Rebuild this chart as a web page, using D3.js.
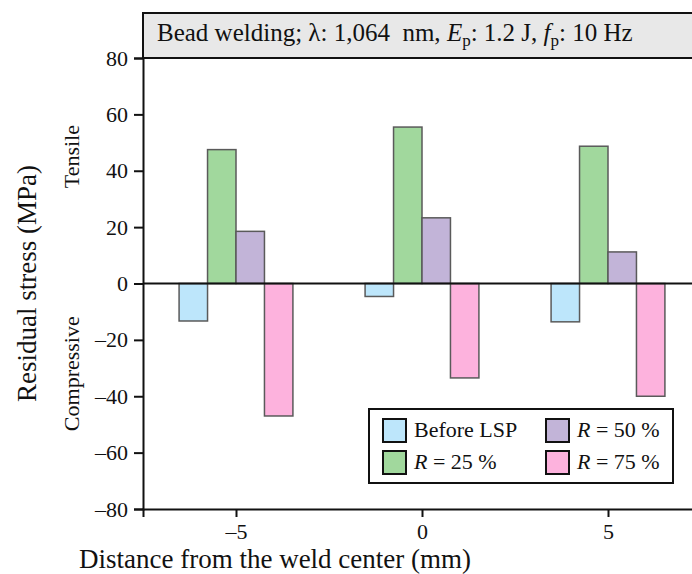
<!DOCTYPE html>
<html>
<head>
<meta charset="utf-8">
<script src="https://cdn.jsdelivr.net/npm/d3@7"></script>
<style>
  body { margin: 0; background: #fff; }
  svg text { font-family: 'Liberation Serif', 'DejaVu Serif', serif !important; fill: #111; }
</style>
</head>
<body>
<script>
const positions = [-5, 0, 5];
const series = ["Before LSP", "R = 25 %", "R = 50 %", "R = 75 %"];
const beforeLSP = [-13.3, -4.6, -13.6];
const r25 = [47.5, 55.5, 48.7];
const r50 = [18.5, 23.3, 11.2];
const r75 = [-47.0, -33.5, -40.0];
const yTicks = [-80, -60, -40, -20, 0, 20, 40, 60, 80];
const xTicks = [-5, 0, 5];
const colors = ["#bde6fb", "#a1d89d", "#c2b4d8", "#fdb2dd"];

const values = [beforeLSP, r25, r50, r75];

const width = 692, height = 574;
const marginLeft = 143, marginTop = 58, plotBottom = 509;

const x = d3.scaleLinear().domain([-7.5, 7.5]).range([marginLeft, 701]);
const y = d3.scaleLinear().domain([-80, 80]).range([plotBottom, marginTop]);

// bars within a group, group width ~3.06 units
const groupW = x(3.06) - x(0);
const band = d3.scaleBand().domain(series).range([-groupW / 2, groupW / 2]);

const svg = d3.select("body").append("svg")
    .attr("width", width)
    .attr("height", height)
    .attr("font-family", "Liberation Serif");

// title box
svg.append("rect")
    .attr("x", marginLeft).attr("y", 13)
    .attr("width", 600).attr("height", marginTop - 13)
    .attr("fill", "#e8e8e8").attr("stroke", "#111").attr("stroke-width", 2);

const title = svg.append("text")
    .attr("x", 157).attr("y", 41)
    .attr("xml:space", "preserve")
    .style("white-space", "pre")
    .style("font-size", "25px");
title.append("tspan").text("Bead welding; λ: 1,064  nm, ");
title.append("tspan").style("font-style", "italic").text("E");
title.append("tspan").attr("dy", 5).style("font-size", "17px").text("p");
title.append("tspan").attr("dy", -5).text(": 1.2 J, ");
title.append("tspan").style("font-style", "italic").text("f");
title.append("tspan").attr("dy", 5).style("font-size", "17px").text("p");
title.append("tspan").attr("dy", -5).text(": 10 Hz");

// bars
series.forEach((s, i) => {
    svg.append("g").selectAll("rect")
        .data(positions.map((p, j) => ({ p, v: values[i][j] })))
        .join("rect")
        .attr("x", d => x(d.p) + band(s))
        .attr("width", band.bandwidth())
        .attr("y", d => y(Math.max(0, d.v)))
        .attr("height", d => Math.abs(y(d.v) - y(0)))
        .attr("fill", colors[i])
        .attr("stroke", "#5a5a5a")
        .attr("stroke-width", 1.5);
});

// zero line
svg.append("line")
    .attr("x1", marginLeft).attr("x2", width)
    .attr("y1", y(0)).attr("y2", y(0))
    .attr("stroke", "#111").attr("stroke-width", 2);

// axes
const yAxis = svg.append("g")
    .attr("transform", `translate(${marginLeft},0)`)
    .call(d3.axisLeft(y).tickValues(yTicks).tickSize(9).tickPadding(6)
        .tickFormat(d => d < 0 ? "\u2013" + Math.abs(d) : d));
yAxis.attr("font-family", null);
yAxis.select(".domain").attr("stroke", "#111").attr("stroke-width", 2);
yAxis.selectAll(".tick line").attr("stroke", "#111").attr("stroke-width", 2);
yAxis.selectAll(".tick text").style("font-size", "22px").attr("fill", "#111");

const xAxis = svg.append("g")
    .attr("transform", `translate(0,${plotBottom})`)
    .call(d3.axisBottom(x).tickValues(xTicks).tickSize(8).tickPadding(6)
        .tickFormat(d => d < 0 ? "\u2013" + Math.abs(d) : d));
xAxis.attr("font-family", null);
xAxis.select(".domain").attr("stroke", "#111").attr("stroke-width", 2);
xAxis.selectAll(".tick line").attr("stroke", "#111").attr("stroke-width", 2);
xAxis.selectAll(".tick text").style("font-size", "22px").attr("fill", "#111");

// axis titles
svg.append("text")
    .attr("x", 275).attr("y", 568)
    .attr("text-anchor", "middle")
    .style("font-size", "27px")
    .text("Distance from the weld center (mm)");

svg.append("text")
    .attr("transform", `translate(36,${(marginTop + plotBottom) / 2}) rotate(-90)`)
    .attr("text-anchor", "middle")
    .style("font-size", "27px")
    .text("Residual stress (MPa)");

svg.append("text")
    .attr("transform", `translate(79,${y(45)}) rotate(-90)`)
    .attr("text-anchor", "middle")
    .style("font-size", "22px")
    .text("Tensile");

svg.append("text")
    .attr("transform", `translate(79,${y(-32)}) rotate(-90)`)
    .attr("text-anchor", "middle")
    .style("font-size", "22px")
    .text("Compressive");

// legend
const legend = svg.append("g").attr("transform", "translate(369,409)");
legend.append("rect")
    .attr("width", 304).attr("height", 74)
    .attr("fill", "#fff").attr("stroke", "#111").attr("stroke-width", 2);

const items = legend.selectAll("g.item")
    .data(series)
    .join("g")
    .attr("class", "item")
    .attr("transform", (d, i) => `translate(${i < 2 ? 14 : 177},${i % 2 === 0 ? 10 : 42})`);

items.append("rect")
    .attr("width", 23).attr("height", 23)
    .attr("fill", (d, i) => colors[i])
    .attr("stroke", "#111").attr("stroke-width", 2);

items.each(function(d) {
    const t = d3.select(this).append("text")
        .attr("x", 31).attr("y", 18)
        .style("font-size", "22px");
    if (d.startsWith("R")) {
        t.append("tspan").style("font-style", "italic").text("R");
        t.append("tspan").text(d.slice(1));
    } else {
        t.text(d);
    }
});
</script>
</body>
</html>
